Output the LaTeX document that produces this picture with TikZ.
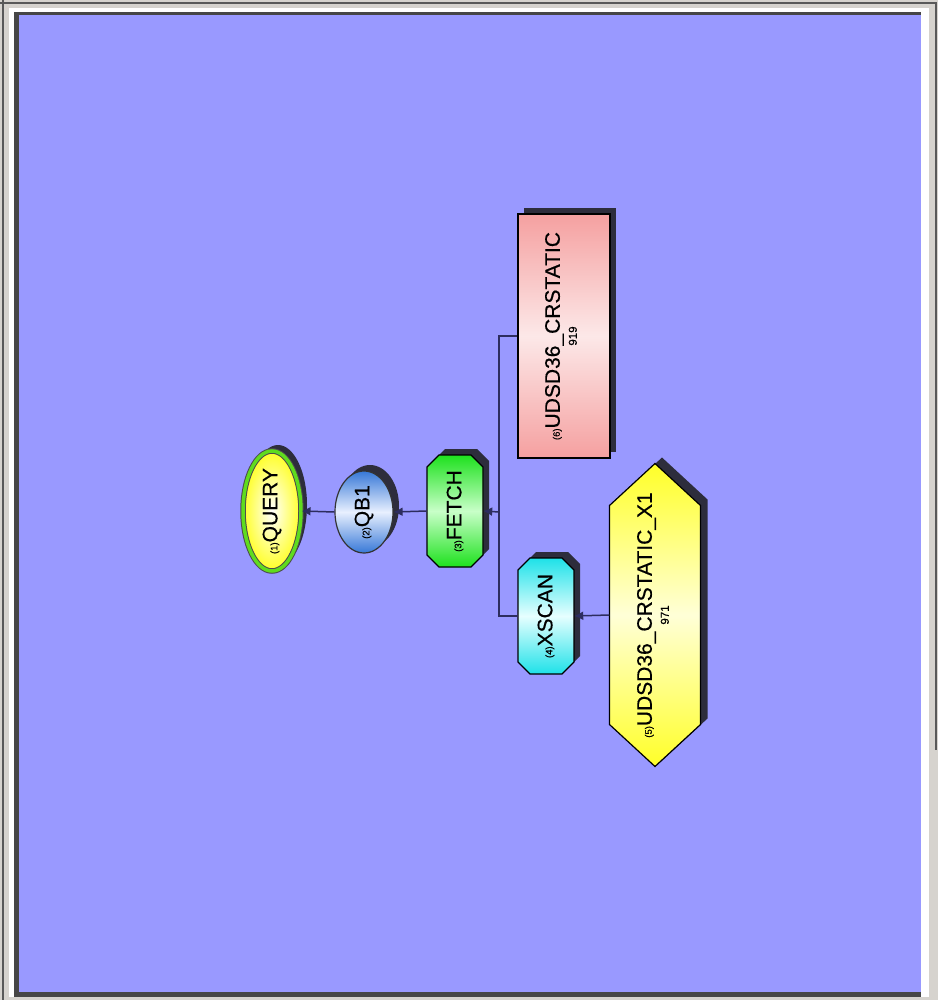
\documentclass[tikz,border=0pt]{standalone}
\usepackage{fontspec}
\setmainfont{Liberation Sans}
\usetikzlibrary{shapes.geometric,arrows.meta,shadows}
\definecolor{framegray}{RGB}{214,211,206}
\definecolor{framedark}{RGB}{70,70,70}
\definecolor{panelblue}{RGB}{153,153,255}
\definecolor{shadowc}{RGB}{45,45,60}
\definecolor{conncol}{RGB}{45,45,95}
\definecolor{pinkend}{RGB}{245,160,160}
\definecolor{pinkmid}{RGB}{252,232,232}
\definecolor{yelend}{RGB}{255,255,40}
\definecolor{yelmid}{RGB}{255,255,215}
\definecolor{cyanend}{RGB}{30,225,232}
\definecolor{cyanmid}{RGB}{230,255,255}
\definecolor{grnend}{RGB}{30,225,30}
\definecolor{grnmid}{RGB}{200,255,200}
\definecolor{bluend}{RGB}{55,120,215}
\definecolor{blumid}{RGB}{232,240,255}
\definecolor{qborder}{RGB}{95,220,30}
\newcommand\pre[1]{{\fontsize{9.5}{9}\selectfont(#1)}}
\newcommand\num[1]{{\fontsize{11.5}{12}\selectfont #1}}
\begin{document}
\begin{tikzpicture}[x=1pt,y=1pt,
  conn/.style={draw=conncol,line width=1.5pt},
  arr/.style={conn,-{Latex[length=9pt,width=9pt]}},
  outline/.style={draw=black,line width=1.2pt},
  shad/.style={drop shadow={shadow xshift=6pt,shadow yshift=6pt,fill=shadowc,opacity=1}},
  txt/.style={rotate=90,align=center,inner sep=0pt,font=\fontsize{21}{17}\selectfont\addfontfeature{FakeBold=0.4}},
  box/.style={rectangle,inner sep=0pt,draw=none}]
\useasboundingbox (0,-1000) rectangle (938,0);
% frame
\fill[framegray] (0,-1000) rectangle (938,0);
\draw[gray!70!black,line width=2pt] (0,-3) -- (936,-3) -- (936,-750);
\draw[gray!70!black,line width=2pt] (3,0) -- (3,-1000);
\fill[white] (9,-997) rectangle (929,-8);
\fill[framedark] (14,-997) rectangle (921,-12);
\fill[panelblue] (19,-992) rectangle (921,-15);
% QUERY
\node[ellipse,shad,minimum width=58pt,minimum height=120pt,inner sep=0pt,
  inner color=white,outer color=yellow!85!white,draw=black!70,double=qborder,double distance=3.5pt,line width=1pt] (query) at (272,-511) {};
% QB1
\node[ellipse,shad,minimum width=58pt,minimum height=82pt,inner sep=0pt,
  top color=bluend,bottom color=bluend,middle color=blumid,draw=black!80,line width=1.2pt] (qb1) at (364,-512) {};
% FETCH octagon
\node[box,minimum width=56pt,minimum height=112pt] (fetch) at (455,-511) {};
\fill[shadowc,shift={(6,6)}] (427,-467) -- (439,-455) -- (471,-455) -- (483,-467) -- (483,-555) -- (471,-567) -- (439,-567) -- (427,-555) -- cycle;
\path[outline,top color=grnend,bottom color=grnend,middle color=grnmid] (427,-467) -- (439,-455) -- (471,-455) -- (483,-467) -- (483,-555) -- (471,-567) -- (439,-567) -- (427,-555) -- cycle;
% pink table
\node[rectangle,shad,minimum width=92pt,minimum height=244pt,inner sep=0pt,
  top color=pinkend,bottom color=pinkend,middle color=pinkmid,outline] (tbl) at (564,-336) {};
% XSCAN octagon
\node[box,minimum width=56pt,minimum height=116pt] (xscan) at (546,-616) {};
\fill[shadowc,shift={(6,6)}] (518,-570) -- (530,-558) -- (562,-558) -- (574,-570) -- (574,-662) -- (562,-674) -- (530,-674) -- (518,-662) -- cycle;
\path[outline,top color=cyanend,bottom color=cyanend,middle color=cyanmid] (518,-570) -- (530,-558) -- (562,-558) -- (574,-570) -- (574,-662) -- (562,-674) -- (530,-674) -- (518,-662) -- cycle;
% index hexagon
\node[box,minimum width=91pt,minimum height=303pt] (idx) at (655,-615) {};
\fill[shadowc,shift={(7,6)}] (609.5,-505.5) -- (655,-463.5) -- (700.5,-505.5) -- (700.5,-724.5) -- (655,-766.5) -- (609.5,-724.5) -- cycle;
\path[outline,top color=yelend,bottom color=yelend,middle color=yelmid] (609.5,-505.5) -- (655,-463.5) -- (700.5,-505.5) -- (700.5,-724.5) -- (655,-766.5) -- (609.5,-724.5) -- cycle;
% connectors
\coordinate (j) at (499,-512);
\draw[conn] (tbl.west) -| (j);
\draw[conn] (j) |- (xscan.west);
\draw[arr] (j) -- (fetch.east);
\draw[arr] (fetch.west) -- (qb1.east);
\draw[arr] (qb1.west) -- (query.east);
\draw[arr] (idx.west) -- (xscan.east);
% texts
\node[txt] (querytxt) at (query.center) {\pre{1}QUERY};
\node[txt] (qb1txt) at (qb1.center) {\pre{2}QB1};
\node[txt] (fetchtxt) at (fetch.center) {\pre{3}FETCH};
\node[txt] (xscantxt) at (xscan.center) {\pre{4}XSCAN};
\node[txt] (idxtxt) at ([xshift=-2pt]idx.center) {\pre{5}UDSD36\_CRSTATIC\_X1\\\num{971}};
\node[txt] (tbltxt) at ([xshift=-3pt]tbl.center) {\pre{6}UDSD36\_CRSTATIC\\\num{919}};
\end{tikzpicture}
\end{document}
